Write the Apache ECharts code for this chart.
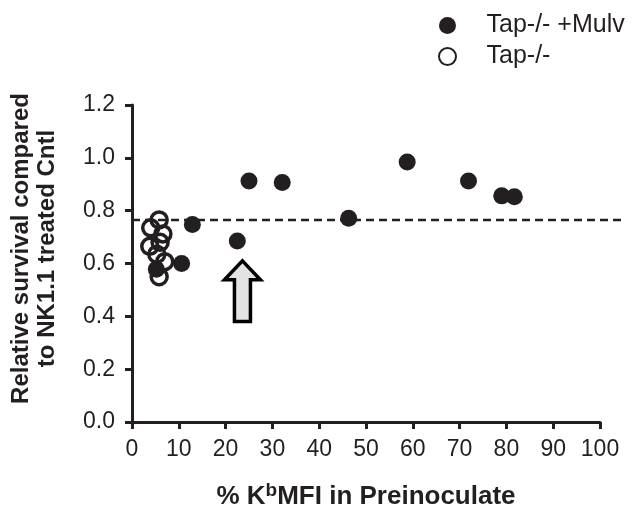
<!DOCTYPE html>
<html>
<head>
<meta charset="utf-8">
<script src="https://cdn.jsdelivr.net/npm/echarts@6/dist/echarts.min.js"></script>
<style>
html,body{margin:0;padding:0;background:#fff;}
#chart{width:644px;height:515px;}
</style>
</head>
<body>
<div id="chart"></div>
<script>
// Tap-/- +Mulv (filled): [% Kb MFI, relative survival]
const mulvPoints = [
  [5.2, 0.578], [10.6, 0.600], [12.9, 0.748], [22.5, 0.685], [25.0, 0.912],
  [32.1, 0.907], [46.3, 0.771], [58.8, 0.984], [71.9, 0.912], [79.0, 0.856], [81.7, 0.853]
];
// Tap-/- (open)
const tapPoints = [
  [5.8, 0.765], [4.0, 0.735], [6.6, 0.712], [3.8, 0.665], [6.0, 0.680],
  [5.3, 0.635], [7.0, 0.607], [5.8, 0.550]
];
// dashed reference line
const refLevel = 0.765;
const refRange = [0, 105];
// arrow annotation: x, tip y, tail y
const arrowX = 23.6, arrowTip = 0.61, arrowTail = 0.38;

const xTicks = {min: 0, max: 100, interval: 10};
const yTicks = {min: 0, max: 1.2, interval: 0.2};

const ink = '#231f20';
const font = "'Liberation Sans', Arial, Helvetica, sans-serif";

const chart = echarts.init(document.getElementById('chart'), null, {renderer: 'canvas'});
const option = {
  backgroundColor: '#ffffff',
  animation: false,
  grid: {left: 131, right: 44, top: 105, bottom: 89, containLabel: false},
  legend: {
    orient: 'vertical',
    left: 433, top: 8,
    itemWidth: 68, itemHeight: 17, itemGap: 6,
    data: ['Tap-/- +Mulv', 'Tap-/-'],
    textStyle: {fontFamily: font, fontSize: 25, color: ink}
  },
  xAxis: {
    type: 'value', min: xTicks.min, max: xTicks.max, interval: xTicks.interval,
    splitLine: {show: false},
    axisLine: {show: true, onZero: false, lineStyle: {color: ink, width: 3}},
    axisTick: {show: true, length: 7, lineStyle: {color: ink, width: 3}},
    axisLabel: {fontFamily: font, fontSize: 23, color: ink, margin: 16},
    name: '% K{sup|b}MFI in Preinoculate',
    nameLocation: 'middle', nameGap: 59,
    nameTextStyle: {
      fontFamily: font, fontSize: 26, fontWeight: 'bold', color: ink,
      rich: {sup: {fontFamily: font, fontSize: 19, fontWeight: 'bold', color: ink, padding: [0, 0, 13, 0]}}
    }
  },
  yAxis: {
    type: 'value', min: yTicks.min, max: yTicks.max, interval: yTicks.interval,
    splitLine: {show: false},
    axisLine: {show: true, onZero: false, lineStyle: {color: ink, width: 3}},
    axisTick: {show: true, length: 7, lineStyle: {color: ink, width: 3}},
    axisLabel: {fontFamily: font, fontSize: 23, color: ink, margin: 17,
      formatter: v => v.toFixed(1)},
    name: 'Relative survival compared\nto NK1.1 treated Cntl',
    nameLocation: 'middle', nameGap: 72, nameRotate: 90,
    nameTextStyle: {fontFamily: font, fontSize: 24, fontWeight: 'bold', color: ink, lineHeight: 26,
      padding: [0, 0, 0, 30]}
  },
  series: [
    {
      name: 'Tap-/- +Mulv', type: 'scatter', data: mulvPoints, symbol: 'circle', symbolSize: 17, z: 3,
      itemStyle: {color: ink, opacity: 1}
    },
    {
      name: 'Tap-/-', type: 'scatter', data: tapPoints, symbol: 'circle', symbolSize: 16, z: 4,
      itemStyle: {color: 'rgba(255,255,255,0)', borderColor: ink, borderWidth: 3.5, opacity: 1}
    }
  ]
};
chart.setOption(option);

// annotations positioned through the axes
const p0 = chart.convertToPixel({gridIndex: 0}, [refRange[0], refLevel]);
const p1 = chart.convertToPixel({gridIndex: 0}, [refRange[1], refLevel]);
const tip = chart.convertToPixel({gridIndex: 0}, [arrowX, arrowTip]);
const tail = chart.convertToPixel({gridIndex: 0}, [arrowX, arrowTail]);
const cx = tip[0], headH = 19, headW = 18, shaftW = 8;
chart.setOption({
  graphic: [
    {
      type: 'line', z: 1, silent: true,
      shape: {x1: p0[0], y1: p0[1], x2: p1[0], y2: p1[1]},
      style: {stroke: ink, lineWidth: 2.5, lineDash: [8, 5]}
    },
    {
      type: 'polygon', z: 10,
      shape: {points: [
        [cx, tip[1]], [cx + headW, tip[1] + headH], [cx + shaftW, tip[1] + headH],
        [cx + shaftW, tail[1]], [cx - shaftW, tail[1]], [cx - shaftW, tip[1] + headH],
        [cx - headW, tip[1] + headH]
      ]},
      style: {fill: '#e3e3e3', stroke: '#000', lineWidth: 3.5, lineJoin: 'miter'}
    }
  ]
});
</script>
</body>
</html>
